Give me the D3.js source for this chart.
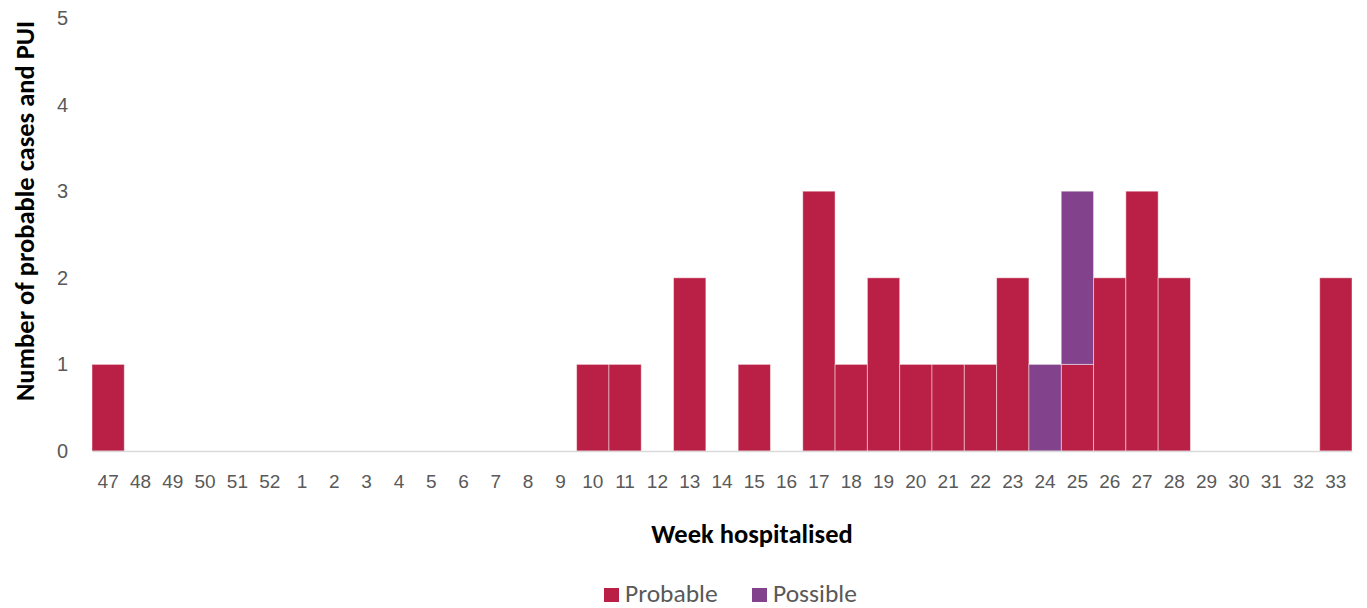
<!DOCTYPE html>
<html>
<head>
<meta charset="utf-8">
<script src="https://cdn.jsdelivr.net/npm/d3@7/dist/d3.min.js"></script>
<style>
  html, body { margin: 0; padding: 0; background: #fff; }
  svg { display: block; font-family: Carlito, Lato, "Open Sans", sans-serif; }
</style>
</head>
<body>
<svg id="chart" width="1367" height="608"></svg>
<script>
// Weeks hospitalised (week 47 of the previous year through week 33)
const weeks = ["47","48","49","50","51","52","1","2","3","4","5","6","7","8","9","10","11","12","13","14","15","16","17","18","19","20","21","22","23","24","25","26","27","28","29","30","31","32","33"];
const probable = [1,0,0,0,0,0,0,0,0,0,0,0,0,0,0,1,1,0,2,0,1,0,3,1,2,1,1,1,2,0,1,2,3,2,0,0,0,0,2];
const possible = [0,0,0,0,0,0,0,0,0,0,0,0,0,0,0,0,0,0,0,0,0,0,0,0,0,0,0,0,0,1,2,0,0,0,0,0,0,0,0];
const seriesNames = ["Probable", "Possible"];
const seriesColors = ["#BA2045", "#83428C"];
const yTicks = [0,1,2,3,4,5];

const svg = d3.select("#chart");
const margin = { left: 92, right: 15, top: 18, bottom: 157 };
const W = 1367, H = 608;
const plotW = W - margin.left - margin.right;
const plotH = H - margin.top - margin.bottom;

const rows = weeks.map((w, i) => ({ week: w, Probable: probable[i], Possible: possible[i] }));
const stacked = d3.stack().keys(seriesNames)(rows);

const x = d3.scaleBand().domain(weeks).range([margin.left, margin.left + plotW]).padding(0);
const y = d3.scaleLinear().domain([0, 5]).range([margin.top + plotH, margin.top]);

// Stacked bars
svg.append("g").selectAll("g")
  .data(stacked)
  .join("g")
  .attr("fill", (d, i) => seriesColors[i])
  .selectAll("rect")
  .data(d => d.filter(s => s[1] - s[0] > 0))
  .join("rect")
  .attr("x", d => x(d.data.week))
  .attr("width", x.bandwidth())
  .attr("y", d => y(d[1]))
  .attr("height", d => y(d[0]) - y(d[1]))
  .attr("stroke", "rgba(255,255,255,0.45)")
  .attr("stroke-width", 1);

// X axis
const xAxis = svg.append("g")
  .attr("transform", `translate(0,${y(0)})`)
  .call(d3.axisBottom(x).tickSize(0).tickPadding(24));
xAxis.select(".domain").attr("stroke", "#d9d9d9").attr("stroke-width", 1.5);
xAxis.selectAll("text").attr("fill", "#595959").attr("font-size", 19);

// Y axis (labels only)
const yAxis = svg.append("g")
  .attr("transform", `translate(${margin.left},0)`)
  .call(d3.axisLeft(y).tickValues(yTicks).tickFormat(d3.format("d")).tickSize(0).tickPadding(24));
yAxis.select(".domain").remove();
yAxis.selectAll("text").attr("fill", "#595959").attr("font-size", 20);

// Axis titles
svg.append("text")
  .attr("transform", "translate(25,211) rotate(-90)")
  .attr("dy", "0.35em")
  .attr("text-anchor", "middle")
  .attr("font-size", 26.5)
  .attr("font-weight", "bold")
  .attr("fill", "#000")
  .text("Number of probable cases and PUI");

svg.append("text")
  .attr("x", 752)
  .attr("y", 543)
  .attr("text-anchor", "middle")
  .attr("font-size", 26.5)
  .attr("font-weight", "bold")
  .attr("fill", "#000")
  .text("Week hospitalised");

// Legend
const legendX = [604, 752];
const legend = svg.append("g");
seriesNames.forEach((name, i) => {
  legend.append("rect")
    .attr("x", legendX[i]).attr("y", 588)
    .attr("width", 15).attr("height", 14)
    .attr("fill", seriesColors[i]);
  legend.append("text")
    .attr("x", legendX[i] + 21).attr("y", 602)
    .attr("font-size", 25.5)
    .attr("fill", "#595959")
    .text(name);
});
</script>
</body>
</html>
